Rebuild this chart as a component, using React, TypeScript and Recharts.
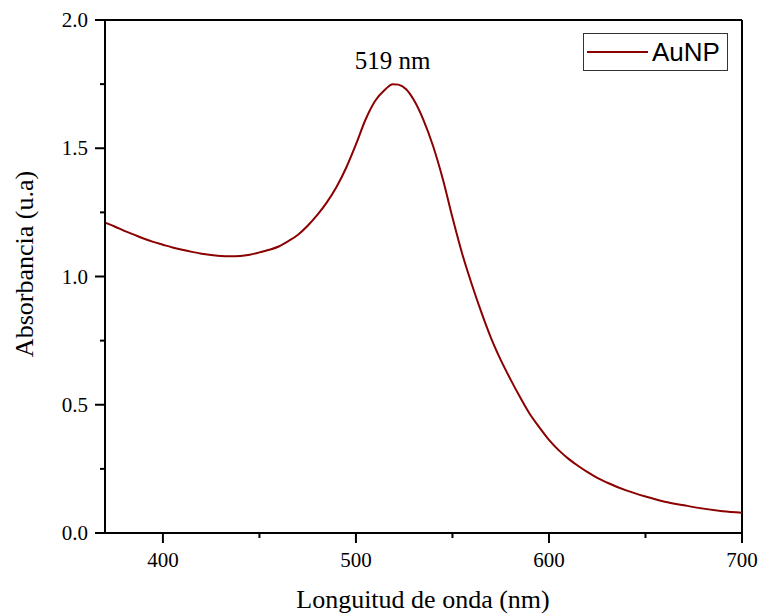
import { Line, LineChart, ReferenceDot, ReferenceLine, XAxis, YAxis } from 'recharts';

const wavelength = [
  370, 375, 380, 385, 390, 395, 400, 405, 410, 415, 420, 425, 430, 435, 440, 445, 450, 455, 460, 465,
  470, 475, 480, 485, 490, 495, 500, 505, 510, 515, 519, 522, 526, 530, 535, 540, 545, 550, 555, 560,
  565, 570, 575, 580, 585, 590, 595, 600, 605, 610, 615, 620, 625, 630, 640, 650, 660, 670, 680, 690, 700,
];
const absorbance = [
  1.21, 1.195, 1.178, 1.163, 1.148, 1.135, 1.124, 1.113, 1.104, 1.096, 1.089, 1.084, 1.08, 1.079, 1.08, 1.085,
  1.094, 1.104, 1.117, 1.138, 1.163, 1.198, 1.24, 1.29, 1.35, 1.425, 1.515, 1.612, 1.685, 1.728, 1.75, 1.748,
  1.73, 1.688, 1.61, 1.508, 1.38, 1.23, 1.09, 0.97, 0.86, 0.76, 0.675, 0.6, 0.53, 0.465, 0.412, 0.363, 0.323,
  0.29, 0.262, 0.237, 0.215, 0.197, 0.166, 0.142, 0.122, 0.108, 0.095, 0.085, 0.079,
];
const xTicks = [400, 450, 500, 550, 600, 650, 700];
const yTicks = [0, 0.25, 0.5, 0.75, 1, 1.25, 1.5, 1.75, 2];
const peakNm = 519;
const peakAbs = 1.75;
const seriesName = 'AuNP';

const data = wavelength.map((w, i) => ({ w, a: absorbance[i] }));

const serif = '"Liberation Serif", "Times New Roman", serif';
const red = '#8B0000';

function XTick({ x, y, payload }: any) {
  const major = payload.value % 100 === 0;
  return (
    <g>
      <line x1={x} x2={x} y1={y} y2={y + (major ? 10 : 5)} stroke="#000" strokeWidth={2} />
      {major && (
        <text x={x} y={y + 34} textAnchor="middle" fontSize={21} fontFamily={serif} fill="#000">
          {payload.value}
        </text>
      )}
    </g>
  );
}

function YTick({ x, y, payload }: any) {
  const major = Math.abs(payload.value * 2 - Math.round(payload.value * 2)) < 1e-6;
  return (
    <g>
      <line x1={x - (major ? 10 : 5)} x2={x} y1={y} y2={y} stroke="#000" strokeWidth={2} />
      {major && (
        <text x={x - 17} y={y + 7} textAnchor="end" fontSize={21} fontFamily={serif} fill="#000">
          {payload.value.toFixed(1)}
        </text>
      )}
    </g>
  );
}

// legend drawn as a plain box so it doesn't eat plot space
function LegendBox() {
  return (
    <div
      style={{
        position: 'absolute',
        left: 583,
        top: 33,
        width: 143,
        height: 36,
        border: '1px solid #333',
        background: '#fff',
        display: 'flex',
        alignItems: 'center',
      }}
    >
      <svg width={68} height={10}>
        <line x1={3} x2={64} y1={5} y2={5} stroke={red} strokeWidth={2} />
      </svg>
      <span style={{ fontFamily: '"Liberation Sans", Arial, sans-serif', fontSize: 26, color: '#000' }}>
        {seriesName}
      </span>
    </div>
  );
}

export default function App() {
  return (
    <div style={{ position: 'absolute', left: 0, top: 0, width: 759, height: 615, background: '#fff' }}>
      <LineChart width={759} height={615} data={data} margin={{ top: 20, right: 17, left: 0, bottom: 0 }}>
        <XAxis
          dataKey="w"
          type="number"
          domain={[370, 700]}
          ticks={xTicks}
          interval={0}
          height={82}
          tickSize={0}
          tickMargin={0}
          tickLine={false}
          tick={<XTick />}
          axisLine={{ stroke: '#000', strokeWidth: 2 }}
        />
        <YAxis
          type="number"
          domain={[0, 2]}
          ticks={yTicks}
          interval={0}
          width={105}
          tickSize={0}
          tickMargin={0}
          tickLine={false}
          tick={<YTick />}
          axisLine={{ stroke: '#000', strokeWidth: 2 }}
        />
        <ReferenceLine y={2} stroke="#000" strokeWidth={2} />
        <ReferenceLine x={700} stroke="#000" strokeWidth={2} />
        <Line
          type="monotone"
          dataKey="a"
          name={seriesName}
          stroke={red}
          strokeWidth={2}
          dot={false}
          isAnimationActive={false}
        />
        <ReferenceDot
          x={peakNm}
          y={peakAbs}
          r={0}
          shape={(p: any) => (
            <text x={p.cx} y={p.cy - 15} textAnchor="middle" fontSize={25} fontFamily={serif} fill="#000">
              {`${peakNm} nm`}
            </text>
          )}
        />
        <text x={423} y={608} textAnchor="middle" fontSize={26} fontFamily={serif} fill="#000">
          Longuitud de onda (nm)
        </text>
        <text
          x={33}
          y={264}
          textAnchor="middle"
          fontSize={26}
          fontFamily={serif}
          fill="#000"
          transform="rotate(-90 33 264)"
        >
          Absorbancia (u.a)
        </text>
      </LineChart>
      <LegendBox />
    </div>
  );
}
